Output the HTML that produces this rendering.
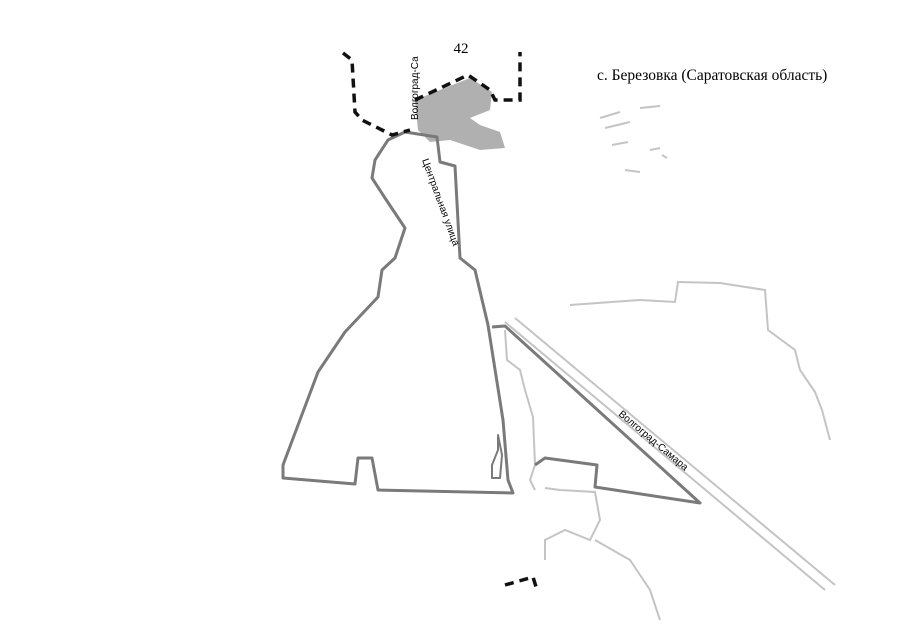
<!DOCTYPE html>
<html><head><meta charset="utf-8"><style>
html,body{margin:0;padding:0;background:#fff;}
svg{display:block}
</style></head><body>
<svg width="905" height="640" viewBox="0 0 905 640" xmlns="http://www.w3.org/2000/svg">
<rect width="905" height="640" fill="#fff"/>
<!-- gray blob -->
<path d="M415,100 L470,78 L492,92 L490,110 L470,118 L480,125 L500,132 L505,148 L480,150 L450,140 L430,142 L418,130 Z" fill="#b0b0b0"/>
<!-- light outlines -->
<g fill="none" stroke="#c4c4c4" stroke-width="2">
<path d="M570,305 L640,300 L675,302 L678,282 L720,283 L765,290 L768,330 L795,350 L800,370 L815,392 L822,410 L830,440"/>
<path d="M505,322 L825,590"/>
<path d="M515,318 L835,585"/>
<path d="M545,488 L560,490 L595,492 L600,520 L590,540 L565,530 L545,540 L545,560"/>
<path d="M595,540 L630,560 L650,590 L660,620"/>
<path d="M505,330 L507,360 L520,370 L525,390 L533,417 L535,465 L530,480 L535,490"/>
<path d="M600,118 L620,112 M605,128 L630,122 M640,108 L660,106 M612,145 L628,142 M650,150 L660,148 M625,170 L640,172 M662,155 L667,158"/>
</g>
<!-- main polygon -->
<g fill="none" stroke="#7a7a7a" stroke-width="3" stroke-linejoin="round">
<path d="M388,140 L405,132 L437,137 L440,162 L455,166 L460,258 L475,270 L488,325 L503,420 L508,480 L513,493 L378,490 L372,458 L358,458 L355,484 L283,478 L283,465 L318,372 L345,332 L378,297 L382,270 L395,258 L405,228 L385,198 L372,178 L375,160 Z"/>
<path d="M492,327 L505,326 L700,503 L595,487 L597,465 L545,458 L535,465"/>
<path d="M498,435 L502,455 L500,478 L492,478 L492,465 L498,450 Z" stroke-width="2"/>
</g>
<!-- dashed boundary -->
<g fill="none" stroke="#111" stroke-width="3.5" stroke-dasharray="9,6">
<path d="M343,53 L352,60 L355,112 L362,120 L392,135 L410,130"/>
<path d="M415,100 L468,75 L490,90 L495,100 L520,100 L520,52"/>
<path d="M505,585 L533,577 L537,590"/>
</g>
<!-- text -->
<text x="461" y="53" font-family="Liberation Serif, serif" font-size="15" text-anchor="middle">42</text>
<text x="597" y="80" font-family="Liberation Serif, serif" font-size="15.5">с. Березовка (Саратовская область)</text>
<text transform="translate(418,120) rotate(-90)" font-family="Liberation Sans, sans-serif" font-size="10">Волгоград-Са</text>
<text transform="translate(422,160) rotate(70)" font-family="Liberation Sans, sans-serif" font-size="10">Центральная улица</text>
<text transform="translate(618,415) rotate(40)" font-family="Liberation Sans, sans-serif" font-size="10">Волгоград-Самара</text>
</svg>
</body></html>
